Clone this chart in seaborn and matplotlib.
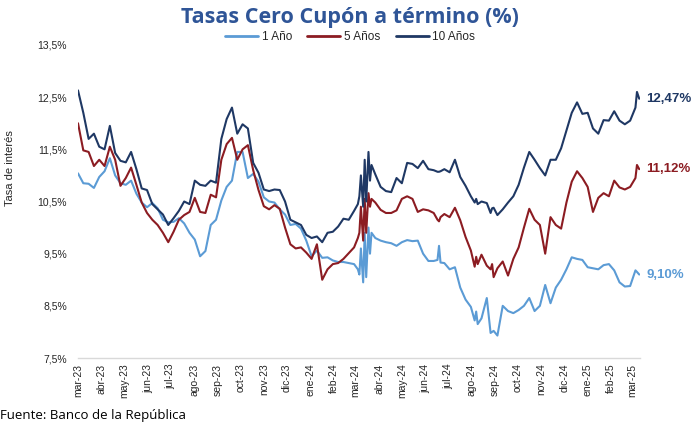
import pandas as pd
import matplotlib
matplotlib.use("Agg")
import matplotlib.pyplot as plt
from matplotlib.lines import Line2D
from matplotlib.ticker import FuncFormatter
import seaborn as sns

# ---------------- data ----------------
week_start = "2023-03-01"
n_weeks = 106

tasa_1 = [11.04, 10.85, 10.84, 10.76, 10.97, 11.08, 11.33, 11.00, 10.85, 10.82,
          10.90, 10.65, 10.48, 10.39, 10.47, 10.37, 10.15, 10.10, 10.11, 10.18,
          10.08, 9.90, 9.77, 9.45, 9.55, 10.05, 10.15, 10.52, 10.78, 10.90,
          11.45, 11.45, 10.95, 11.03, 10.88, 10.58, 10.50, 10.48, 10.35, 10.25,
          10.05, 10.07, 9.98, 9.75, 9.45, 9.56, 9.42, 9.43, 9.37, 9.34,
          9.34, 9.32, 9.30, 9.10, 9.90, 9.50, 9.80, 9.75, 9.72, 9.70,
          9.65, 9.72, 9.76, 9.74, 9.75, 9.50, 9.36, 9.36, 9.65, 9.32,
          9.20, 9.24, 8.85, 8.62, 8.48, 8.39, 8.26, 8.65, 8.00, 7.93,
          8.50, 8.40, 8.36, 8.42, 8.50, 8.65, 8.40, 8.50, 8.90, 8.55,
          8.85, 9.00, 9.20, 9.43, 9.40, 9.38, 9.24, 9.22, 9.20, 9.28,
          9.30, 9.18, 8.95, 8.87, 8.88, 9.18]

tasa_5 = [12.00, 11.48, 11.45, 11.18, 11.30, 11.18, 11.55, 11.30, 10.80, 10.95,
          11.15, 10.82, 10.48, 10.28, 10.15, 10.05, 9.90, 9.72, 9.92, 10.15,
          10.24, 10.30, 10.57, 10.30, 10.28, 10.63, 10.58, 11.30, 11.60, 11.72,
          11.30, 11.50, 11.58, 11.10, 10.72, 10.41, 10.35, 10.43, 10.36, 10.00,
          9.68, 9.60, 9.62, 9.52, 9.40, 9.68, 9.00, 9.20, 9.30, 9.32,
          9.40, 9.51, 9.62, 9.90, 10.55, 10.40, 10.48, 10.34, 10.28, 10.28,
          10.33, 10.55, 10.60, 10.55, 10.30, 10.35, 10.33, 10.28, 10.12, 10.26,
          10.20, 10.38, 10.14, 9.82, 9.56, 9.44, 9.48, 9.27, 9.30, 9.22,
          9.35, 9.08, 9.40, 9.62, 10.00, 10.36, 10.15, 10.05, 9.50, 10.20,
          10.05, 9.98, 10.48, 10.88, 11.08, 10.95, 10.78, 10.30, 10.57, 10.66,
          10.60, 10.90, 10.77, 10.73, 10.78, 10.95]

tasa_10 = [12.63, 12.20, 11.70, 11.80, 11.55, 11.50, 11.95, 11.43, 11.28, 11.25,
           11.45, 11.12, 10.75, 10.72, 10.45, 10.35, 10.25, 10.05, 10.18, 10.32,
           10.50, 10.45, 10.90, 10.82, 10.80, 10.90, 10.86, 11.70, 12.08, 12.30,
           11.80, 11.98, 11.90, 11.24, 11.05, 10.73, 10.70, 10.73, 10.72, 10.50,
           10.15, 10.10, 10.05, 9.86, 9.80, 9.83, 9.72, 9.90, 9.92, 10.02,
           10.17, 10.15, 10.32, 10.60, 11.30, 10.90, 11.02, 10.78, 10.70, 10.68,
           10.95, 10.85, 11.24, 11.22, 11.14, 11.28, 11.12, 11.10, 11.07, 11.12,
           11.06, 11.30, 10.97, 10.80, 10.60, 10.55, 10.50, 10.47, 10.37, 10.24,
           10.35, 10.48, 10.60, 10.82, 11.15, 11.45, 11.30, 11.14, 11.00, 11.30,
           11.30, 11.52, 11.86, 12.20, 12.40, 12.18, 12.20, 11.90, 11.80, 12.06,
           12.05, 12.23, 12.05, 11.98, 12.05, 12.30]

extra_dates = ["2024-03-04", "2024-03-08", "2024-03-11", "2024-03-15", "2024-03-18",
               "2024-03-22", "2024-06-17", "2024-06-21", "2024-08-05", "2024-08-09",
               "2024-08-26", "2024-08-30", "2025-03-07", "2025-03-10"]
extra_1 = [9.20, 9.60, 8.95, 9.05, 10.00, 9.90, 9.38, 9.33, 8.22, 8.15, 7.98, 8.02, 9.15, 9.10]
extra_5 = [9.80, 10.40, 9.75, 9.90, 10.66, 10.55, 10.15, 10.20, 9.25, 9.30, 9.20, 9.05, 11.20, 11.12]
extra_10 = [10.45, 11.00, 10.40, 10.50, 11.45, 11.20, 11.07, 11.08, 10.48, 10.45, 10.28, 10.38, 12.60, 12.47]

series_names = ["1 Año", "5 Años", "10 Años"]
series_colors = ["#5B9BD5", "#8C1C22", "#1F3864"]
month_abbr = ["ene", "feb", "mar", "abr", "may", "jun", "jul", "ago", "sep", "oct", "nov", "dic"]
y_ticks = [7.5, 8.5, 9.5, 10.5, 11.5, 12.5, 13.5]
title_text = "Tasas Cero Cupón a término (%)"
y_label = "Tasa de interés"
source_text = "Fuente: Banco de la República"

# ---------------- build table ----------------
weekly_dates = pd.date_range(week_start, periods=n_weeks, freq="7D")
extra_ts = pd.to_datetime(extra_dates)
frames = []
for name, wk, ex in zip(series_names, [tasa_1, tasa_5, tasa_10], [extra_1, extra_5, extra_10]):
    d = pd.DataFrame({"fecha": list(weekly_dates) + list(extra_ts), "tasa": wk + ex})
    d["serie"] = name
    frames.append(d.sort_values("fecha"))
df = pd.concat(frames, ignore_index=True)

# ---------------- plot ----------------
sns.set_theme(style="white")
plt.rcParams["font.family"] = ["Liberation Sans", "DejaVu Sans"]

W, H = 698, 424
fig = plt.figure(figsize=(W / 100, H / 100), dpi=100)
ax = fig.add_axes([78 / W, 66 / H, 562 / W, 313 / H])

sns.lineplot(data=df, x="fecha", y="tasa", hue="serie", hue_order=series_names,
             palette=series_colors, linewidth=1.5, estimator=None, sort=True,
             legend=False, ax=ax)

ax.set_ylim(7.5, 13.5)
ax.set_yticks(y_ticks)
ax.yaxis.set_major_formatter(FuncFormatter(lambda v, p: f"{v:.1f}".replace(".", ",") + "%"))
ax.set_xlim(pd.Timestamp("2023-03-01"), pd.Timestamp("2025-03-11"))
month_ticks = pd.date_range("2023-03-01", "2025-03-01", freq="MS")
ax.set_xticks(month_ticks)
ax.set_xticklabels([f"{month_abbr[t.month - 1]}-{t.year % 100:02d}" for t in month_ticks],
                   rotation=90, fontsize=7.5, color="#262626")
ax.tick_params(axis="y", labelsize=7.5, labelcolor="#262626", length=0, pad=8)
ax.tick_params(axis="x", length=0, pad=4)
ax.set_xlabel("")
ax.set_ylabel("")
for s in ["top", "right", "left"]:
    ax.spines[s].set_visible(False)
ax.spines["bottom"].set_color("#D9D9D9")
ax.spines["bottom"].set_linewidth(1.0)
ax.grid(False)

# end labels
for name, col in zip(series_names, series_colors):
    sub = df[df["serie"] == name].sort_values("fecha")
    last = sub.iloc[-1]
    ax.annotate(f"{last['tasa']:.2f}".replace(".", ",") + "%",
                xy=(last["fecha"], last["tasa"]), xytext=(5, 0),
                textcoords="offset points", va="center", ha="left",
                fontsize=9.5, fontweight="bold", color=col, annotation_clip=False)

# title, legend, labels
fig.text(350 / W, 1 - 17 / H, title_text, ha="center", va="center",
         fontsize=15.5, fontweight="bold", color="#2F5597", family=["Open Sans", "DejaVu Sans"])
handles = [Line2D([0], [0], color=c, lw=2) for c in series_colors]
fig.legend(handles, series_names, loc="center", bbox_to_anchor=(350 / W, 1 - 37 / H),
           ncol=3, frameon=False, fontsize=8.5, handlelength=2.8, handletextpad=0.3,
           columnspacing=1.3)
fig.text(10 / W, 1 - 168 / H, y_label, rotation=90, ha="center", va="center",
         fontsize=8, color="#262626")
fig.text(0, 1 - 409 / H, source_text, ha="left", va="top", fontsize=9.5,
         color="#000000", family=["Open Sans", "DejaVu Sans"])

fig.savefig("out.png", dpi=100)
